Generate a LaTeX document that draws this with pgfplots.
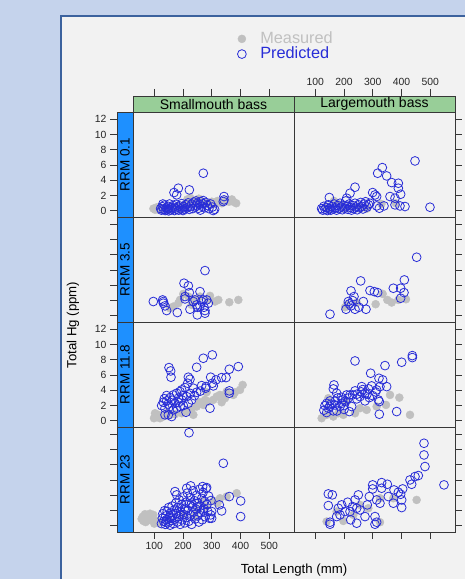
\documentclass[border=0pt]{standalone}
\usepackage{pgfplots}
\pgfplotsset{compat=1.18}
\usepackage{fontspec}
\setmainfont{Liberation Sans}
\definecolor{bgblue}{RGB}{197,211,236}
\definecolor{frameblue}{RGB}{60,98,158}
\definecolor{panelgray}{RGB}{242,242,242}
\definecolor{stripgreen}{RGB}{152,206,152}
\definecolor{stripblue}{RGB}{30,144,255}
\definecolor{meas}{RGB}{192,192,192}
\definecolor{pred}{RGB}{40,45,215}
\definecolor{linegray}{RGB}{55,55,55}
\newcommand{\tickfont}{\fontsize{10.4}{12}\selectfont}
\newcommand{\stripfont}{\fontsize{14}{15}\selectfont}
\newcommand{\rrmfont}{\fontsize{13.5}{14}\selectfont}
\newcommand{\labfont}{\fontsize{13.2}{14}\selectfont}
\pgfplotsset{
  base/.style={scale only axis, anchor=north west,
    axis line style={draw=linegray, line width=0.9pt},
    tick style={draw=linegray, line width=0.8pt},
    major tick length=7pt, tick align=outside,
    ticklabel style={font=\tickfont, text=black!85},
    /pgf/number format/assume math mode=true},
  panel/.style={base, width=161pt, height=105pt, xmin=26, xmax=586,
    ymin=-0.8, ymax=12.95, xtick=\empty, ytick=\empty,
    axis background/.style={fill=panelgray}},
  rightticks/.style={ytick={0,2,...,12}, ytick pos=right, yticklabels={}},
  bottomticks/.style={xtick={100,200,...,500}, xtick pos=left, xticklabel pos=left},
  topstrip/.style={base, width=161pt, height=16pt, xmin=26, xmax=586,
    ymin=0, ymax=1, ytick=\empty, xtick={100,200,...,500},
    xtick pos=right, xticklabel pos=right,
    axis background/.style={fill=stripgreen}},
  leftstrip/.style={base, width=16pt, height=105pt, xmin=0, xmax=1,
    ymin=-0.8, ymax=12.95, xtick=\empty, ytick={0,2,...,12},
    ytick pos=left, yticklabel pos=left,
    axis background/.style={fill=stripblue}},
  measst/.style={only marks, mark=*, mark size=4pt, color=meas, mark options={draw=none, fill=meas}},
  predst/.style={only marks, mark=o, mark size=4.4pt, color=pred, mark options={draw=pred, line width=0.8pt}},
}
\begin{document}
\begin{tikzpicture}[x=1pt,y=1pt]
\path[use as bounding box] (0,0) rectangle (465,579);
\fill[bgblue] (0,0) rectangle (465,579);
\filldraw[fill=panelgray, draw=frameblue, line width=2pt] (61,-30) rectangle (500,563);

% ---------- top strips ----------
\begin{axis}[topstrip, at={(133pt,483pt)}, xticklabels={}]
\node[font=\stripfont] at (axis description cs:0.5,0.5) {Smallmouth bass};
\end{axis}
\begin{axis}[topstrip, at={(294pt,483pt)}]
\node[font=\stripfont] at (axis description cs:0.5,0.5) {Largemouth bass};
\end{axis}

% ---------- left strips ----------
\begin{axis}[leftstrip, at={(117pt,467pt)}]
\node[rotate=90, font=\rrmfont] at (axis description cs:0.5,0.5) {RRM 0.1};
\end{axis}
\begin{axis}[leftstrip, at={(117pt,362pt)}, yticklabels={}]
\node[rotate=90, font=\rrmfont] at (axis description cs:0.5,0.5) {RRM 3.5};
\end{axis}
\begin{axis}[leftstrip, at={(117pt,257pt)}]
\node[rotate=90, font=\rrmfont] at (axis description cs:0.5,0.5) {RRM 11.8};
\end{axis}
\begin{axis}[leftstrip, at={(117pt,152pt)}, yticklabels={}]
\node[rotate=90, font=\rrmfont] at (axis description cs:0.5,0.5) {RRM 23};
\end{axis}

% ---------- Smallmouth RRM 0.1 ----------
\begin{axis}[panel, at={(133pt,467pt)},
  legend style={at={(axis description cs:0.945,1.624)}, anchor=center, draw=none, fill=none,
    font=\fontsize{16.3}{17}\selectfont,
    nodes={inner sep=0pt, text height=11.8pt, text depth=3.4pt},
    row sep=0pt, column sep=14pt},
  legend cell align=left]
\addplot[measst] coordinates {(97,0.3)(103,0.15)(108,0.45)(112,0.2)(118,0.5)(125,0.25)(140,0.35)(160,0.4)(180,0.5)(200,0.7)(215,1.5)(225,1.7)(240,1.3)(255,1.6)(270,1.1)(290,1.0)(310,0.9)(320,1.3)(335,1.0)(350,1.4)(360,1.2)(375,1.2)(385,1.0)(370,1.5)(300,1.2)(230,0.9)(190,0.3)(150,0.2)};
\addlegendentry{\textcolor{meas}{Measured}}
\addplot[predst] coordinates {(270.6,4.93)(222,2.75)(183.7,2.97)(168.6,2.4)(177.9,2.1)(342.5,1.88)(342.5,1.44)(340,1.22)
(122,0.3)(125,0.1)(128,0.55)(132,0.2)(135,0.75)(138,0.05)(141,0.4)(145,0.15)(148,0.6)(150,0.3)(153,0.9)(156,0.1)(160,0.45)(163,0.25)(166,0.7)(170,0.05)(172,0.35)(175,0.85)(178,0.2)(182,0.5)(185,0.1)(188,0.65)(192,0.3)(195,0.95)(198,0.15)(202,0.55)(206,0.25)(210,0.8)(214,0.4)(218,1.05)(222,0.2)(226,0.6)(230,0.9)(234,0.3)(238,1.15)(242,0.5)(246,0.75)(250,1.0)(254,0.35)(258,0.85)(262,1.2)(266,0.6)(270,0.95)(275,0.4)(280,1.1)(285,0.7)(290,0.3)(296,0.9)(302,0.5)(310,0.2)(305,0.05)(260,0.1)(200,0.05)(150,0.0)(130,0.9)(245,1.3)(270,1.35)};
\addlegendentry{\textcolor{pred}{Predicted}}
\end{axis}

% ---------- Largemouth RRM 0.1 ----------
\begin{axis}[panel, rightticks, at={(294pt,467pt)}]
\addplot[measst] coordinates {(140,0.5)(165,1.3)(175,1.0)(190,0.8)(200,0.3)(230,0.5)(260,0.4)(280,0.3)(150,0.2)(330,0.9)(380,1.0)};
\addplot[predst] coordinates {(446.9,6.54)(333.2,5.67)(317,4.93)(348.3,4.58)(365.7,3.71)(388.9,3.62)(388.9,2.97)(397,2.18)(238.2,3.1)(220.8,2.31)(209.2,1.66)(148.9,1.75)(299.6,2.4)(313.5,1.88)(307.7,2.09)(359.9,1.88)(377.3,1.66)(499,0.48)(412.1,0.57)(394.7,0.65)(377.3,0.79)(313.5,0.65)(339,0.65)(322.8,0.35)
(122,0.3)(126,0.1)(130,0.6)(134,0.2)(138,0.45)(142,0.05)(146,0.8)(150,0.3)(154,0.1)(158,0.55)(162,0.25)(166,0.9)(170,0.4)(174,0.1)(178,0.7)(182,0.3)(186,1.0)(190,0.5)(194,0.15)(198,0.75)(202,0.35)(206,1.3)(210,0.6)(214,0.2)(218,0.9)(222,0.45)(226,0.1)(230,0.7)(234,0.3)(238,1.0)(242,0.5)(246,0.15)(250,0.8)(254,0.4)(258,1.1)(262,0.6)(266,0.25)(270,0.9)(275,1.2)(280,0.5)(285,0.8)(290,1.0)};
\end{axis}

% ---------- Smallmouth RRM 3.5 ----------
\begin{axis}[panel, at={(133pt,362pt)}]
\addplot[measst] coordinates {(392.4,2.09)(361,1.79)(322.8,2.09)(311.2,1.88)(293.8,2.62)(288,2.18)(201,2.88)(218.5,2.53)(183.7,1.66)(166.3,1.22)(154.7,1.0)(235.9,2.18)(259,2.53)(189.5,2.09)(230,1.44)};
\addplot[predst] coordinates {(276.4,5.93)(203.4,4.28)(218.5,3.93)(259,3.18)(222,3.05)(206.9,2.22)(96.7,1.88)(129.2,2.09)(131.5,1.66)(137.3,1.31)(143,0.7)(180.2,0.44)(224.2,0.87)(241.6,2.09)(247.4,1.44)(259,1.31)(270.6,2.09)(282.2,2.09)(288,1.66)(273,1.13)(249.8,0.13)(276.4,0.35)(276.4,0.7)(264.8,1.88)(235.9,1.88)(206.9,2.53)(249.8,1.13)(131.5,1.88)};
\end{axis}

% ---------- Largemouth RRM 3.5 ----------
\begin{axis}[panel, rightticks, at={(294pt,362pt)}]
\addplot[measst] coordinates {(415.5,2.18)(365.7,1.75)(350.6,2.09)(334.4,2.88)(310,1.53)(388.9,2.09)(209.2,1.44)(203.4,1.13)(244,1.75)};
\addplot[predst] coordinates {(452.6,7.68)(409.8,4.71)(257.9,4.58)(371.5,3.62)(397,3.62)(408.6,3.05)(397,2.31)(290.3,3.32)(305.4,3.18)(317,3.05)(224.3,3.27)(234.7,2.53)(230,2.0)(218.5,1.57)(267.2,1.88)(252,1.13)(276.4,0.87)(238.2,0.87)(206.9,0.87)(151.2,0.22)(224.3,1.31)(215,1.88)};
\end{axis}

% ---------- Smallmouth RRM 11.8 ----------
\begin{axis}[panel, at={(133pt,257pt)}]
\addplot[measst] coordinates {(407.5,4.71)(398.2,4.06)(375,3.4)(346,2.97)(334.3,2.44)(317,3.18)(305.4,2.75)(288,2.53)(270.6,2.09)(259,2.44)(247.4,1.88)(230,1.57)(212.7,1.22)(195.3,1.0)(172.1,0.87)(154.7,0.79)(131.5,0.57)(114.1,0.79)(102.5,1.0)(99,0.35)(119.9,0.35)(143,1.0)(235.9,0.79)(276.4,2.75)(351.8,3.84)(282.2,3.75)(328.6,3.4)(380.8,3.75)};
\addplot[predst] coordinates {(301.9,8.64)(270.6,8.2)(247.4,7.02)(392.4,7.11)(361,6.76)(151.2,6.98)(157,6.54)(158.2,5.72)(218.5,5.72)(224.2,5.45)(296.1,5.72)(314.7,5.37)(334.3,5.67)(349.5,5.67)(301.9,4.93)(264.8,4.62)(278.7,4.28)(305.4,4.58)(216.2,4.93)(206.9,4.36)(235.9,4.28)(247.4,3.75)(361,3.93)(361,3.62)(189.5,3.84)(177.9,3.62)(143,3.32)(154.7,3.05)(212.7,3.18)(230,2.75)(195.3,2.75)(172.1,2.31)(131.5,2.44)(125.7,2.0)(137.3,1.66)(154.7,1.88)(177.9,1.66)(201,2.0)(218.5,2.31)(166.3,1.44)(148.9,0.79)(137.3,0.79)(160.5,0.57)(210.4,1.13)(293.8,1.66)(143,2.62)(183.7,2.97)(166.3,3.4)(195.3,4.06)
(135,2.9)(148,2.2)(162,2.7)(185,2.4)(200,3.3)(225,3.6)(240,3.3)(260,3.9)(280,4.5)(190,1.9)};
\end{axis}

% ---------- Largemouth RRM 11.8 ----------
\begin{axis}[panel, rightticks, at={(294pt,257pt)}]
\addplot[measst] coordinates {(429.5,0.79)(392.4,3.05)(360,3.4)(346,2.09)(313.5,1.88)(278.7,1.44)(238.2,1.0)(197.6,0.79)(162.8,0.57)(122.2,0.35)(145.4,2.97)(209.2,2.53)(255.5,1.66)(139.6,0.79)(180.2,1.0)};
\addplot[predst] coordinates {(437.6,8.55)(437.6,8.29)(400.5,7.68)(342.5,7.24)(238.2,7.85)(292.6,6.24)(321.6,5.58)(334.4,5.37)(348.3,4.49)(261.4,4.49)(296.1,4.58)(313.5,4.06)(325,4.49)(165.1,4.71)(162.8,4.19)(174.4,3.62)(238.2,3.93)(220.8,3.4)(272.9,3.62)(288,3.05)(319.3,2.75)(322.8,2.53)(272.9,2.62)(244,2.88)(209.2,3.4)(195.3,2.75)(151.2,2.62)(133.8,2.0)(145.4,1.66)(168.6,2.09)(186,1.88)(139.6,1.09)(162.8,1.31)(218.5,1.22)(226.6,1.88)(322.8,0.87)(383.1,1.22)(255.5,3.18)(191.8,2.31)
(130,1.4)(150,1.9)(155,2.2)(170,2.6)(178,3.0)(190,3.1)(200,2.0)(205,2.6)(215,3.0)(230,3.4)(245,3.5)(260,3.8)(280,3.5)(300,3.3)(310,3.8)(265,4.1)(285,4.2)(140,2.3)(175,1.3)(200,1.5)};
\end{axis}

% ---------- Smallmouth RRM 23 ----------
\begin{axis}[panel, bottomticks, at={(133pt,152pt)}]
\addplot[measst] coordinates {(386.6,4.28)(351.8,3.84)(328.6,3.62)(305.4,3.27)(67.7,1.53)(56.1,0.92)(75.9,1.22)(90.9,1.0)(108.3,0.65)(96.7,1.44)(62,0.65)(82.8,0.79)(115,0.4)(100,0.3)(70,0.5)(85,1.6)(60,1.2)(150,0.8)(200,1.5)(250,2.0)(280,2.5)(320,3.0)(265,3.2)(240,1.2)};
\addplot[predst] coordinates {(220.8,12.2)(340.2,8.2)(400.5,3.27)(400.5,1.22)(361,3.84)(326.3,2.75)(334.3,1.96)(297.3,3.32)(299.6,1.88)(299.6,1.0)(296.1,1.44)(282.2,5.02)(268.3,5.15)(226.6,5.24)(212.7,4.93)(172.1,4.49)(177.9,4.06)
(125,0.3)(128,1.0)(130,1.6)(133,0.6)(136,2.0)(138,0.2)(140,1.3)(143,0.8)(145,1.9)(148,0.4)(150,2.4)(152,1.1)(155,0.1)(157,1.7)(160,0.7)(162,2.6)(165,1.4)(167,0.3)(170,2.1)(172,0.9)(175,3.0)(177,1.6)(180,0.5)(182,2.4)(185,1.2)(187,3.4)(190,0.2)(192,1.9)(195,2.8)(197,0.8)(200,3.8)(202,1.5)(205,2.3)(207,0.4)(210,3.1)(212,1.1)(215,4.3)(217,2.0)(220,0.6)(222,2.9)(225,3.7)(227,1.4)(230,0.2)(232,2.5)(235,4.6)(237,1.8)(240,3.3)(242,0.9)(245,2.2)(247,4.0)(250,1.3)(252,3.0)(255,0.5)(257,4.8)(260,2.6)(262,1.7)(265,3.6)(267,0.8)(270,4.4)(272,2.3)(275,3.2)(277,1.2)(280,4.9)(283,2.8)(286,1.9)(289,3.9)(292,1.0)(270,2.0)(250,2.5)(230,3.0)(210,2.2)(190,1.5)(160,1.0)(140,0.5)};
\end{axis}

% ---------- Largemouth RRM 23 ----------
\begin{axis}[panel, rightticks, bottomticks, xticklabels={}, at={(294pt,152pt)}]
\addplot[measst] coordinates {(452.6,3.4)(325.1,0.48)(139.6,0.57)(197.6,0.65)(255.5,2.75)(284.5,2.31)(174.4,1.88)(325.1,3.62)(232.4,1.44)(371.5,3.62)};
\addplot[predst] coordinates {(478.2,10.82)(478.2,9.29)(481.6,7.77)(547.7,5.37)(458.4,6.59)(446.9,6.46)(429.5,6.02)(435.3,5.45)(404,4.84)(388.9,4.41)(397,4.14)(373.8,4.71)(350.6,5.45)(330.9,5.67)(330.9,4.93)(299.6,5.37)(299.6,4.84)(354.1,3.84)(371.5,2.97)(400.5,3.4)(400.5,2.4)(325.1,2.97)(313.5,3.4)(288,3.84)(249.8,4.06)(145.4,4.19)(159.3,4.06)(145.4,2.66)(180.2,2.31)(212.7,3.1)(238.2,3.4)(230,2.53)(220.8,1.88)(255.5,2.09)(273,1.22)(307.7,1.22)(313.5,0.48)(307.7,0.22)(244,0.35)(223.1,0.79)(186,1.44)(174.4,1.22)(151.2,0.22)(151.2,0.48)(203.4,1.88)(244,2.31)(191.8,2.75)(281,2.75)};
\end{axis}

% ---------- axis labels ----------
\node[rotate=90, font=\labfont] at (73,254) {Total Hg (ppm)};
\node[font=\labfont] at (294,9) {Total Length (mm)};
\end{tikzpicture}
\end{document}
